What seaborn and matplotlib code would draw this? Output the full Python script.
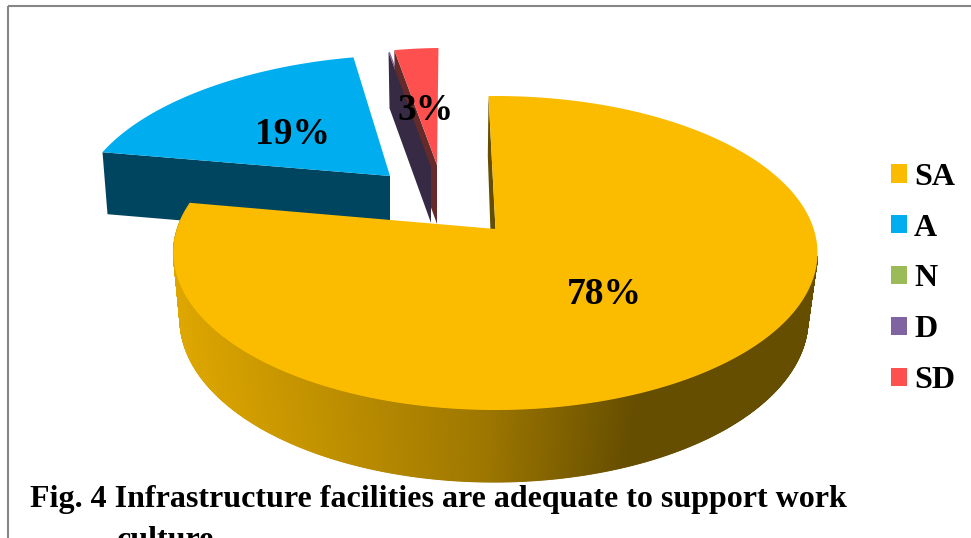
import numpy as np
import pandas as pd
import matplotlib
matplotlib.use("Agg")
from matplotlib import pyplot as plt
from matplotlib.patches import Patch, Polygon
import seaborn as sns

# Data ---------------------------------------------------------------------
categories = ["SA", "A", "N", "D", "SD"]
percent = [78.2, 18.8, 0, 0.1, 2.9]

top_colors = ["#FBBC00", "#00AEEF", "#9BBB59", "#8064A2", "#FF5050"]
wall_colors = ["#664E00", "#004560", "#4E5E2C", "#362A45", "#652A2A"]

# Layout (pixels of the 971x538 picture) -----------------------------------
CX, CY, RX, RY, K = 495.5, 253, 322, 157, -0.153
LOW_CX, LOW_CY, LOW_RX, LOW_RY, LOW_K = 494, 319, 314, 163, -0.1
START = -1.45
# per slice: apex shift x, y, scale x, y, shear
explode = {
    "SA": (0, 0, 1.0, 1.0, 0.0),
    "A": (-105.5, -53, 0.955, 0.91, -0.165),
    "N": (-58.5, -64, 0.88, 0.88, -0.065),
    "D": (-64.5, -62, 0.85, 0.88, -0.065),
    "SD": (-58.5, -64, 0.88, 0.88, -0.065),
}
label_xy = [(604, 294), (292, 135), None, None, (426, 110)]

df = pd.DataFrame({"cat": categories, "pct": percent, "top": top_colors, "wall": wall_colors})
df["label"] = [f"{round(p)}%" if p >= 1 else "" for p in percent]
df["angle"] = df["pct"] / df["pct"].sum() * 360
df["end"] = START + df["angle"].cumsum()
df["begin"] = df["end"] - df["angle"]


def disk(theta, cx, cy, rx, ry, k):
    # circle seen in perspective, theta clockwise from 12 o'clock
    u = np.sin(np.radians(theta))
    v = -np.cos(np.radians(theta))
    return (cx + rx * u * np.sqrt(1 - k**2) / (1 + k * v),
            cy + ry * (v + k) / (1 + k * v))


def place(x, y, cx, cy, shift):
    dx, dy, sx, sy, shear = shift
    return (cx + dx + sx * (x - cx) + shear * sy * (y - cy),
            cy + dy + sy * (y - cy))


def outline(begin, end, plane, shift):
    cx, cy, rx, ry, k = plane
    apex_y = cy + ry * k
    th = np.linspace(begin, end, 200)
    x, y = disk(th, *plane)
    x = np.r_[cx, x]
    y = np.r_[apex_y, y]
    return place(x, y, cx, apex_y, shift)


sns.set_theme(style="white")
plt.rcParams["font.family"] = ["Liberation Serif", "DejaVu Serif"]

fig, ax = plt.subplots(figsize=(9.71, 5.38), dpi=100)
fig.subplots_adjust(0, 0, 1, 1)
ax.set_xlim(0, 971)
ax.set_ylim(538, 0)
ax.axis("off")

upper = (CX, CY, RX, RY, K)
lower = (LOW_CX, LOW_CY, LOW_RX, LOW_RY, LOW_K)
row = df.set_index("cat")


def top(cat, z):
    r = row.loc[cat]
    x, y = outline(r["begin"], r["end"], upper, explode[cat])
    ax.add_patch(Polygon(np.c_[x, y], fc=r["top"], ec="none", zorder=z))


def radial_wall(cat, z, depth, lean):
    # the left hand cut face of a pulled out slice
    r = row.loc[cat]
    x, y = outline(r["begin"], r["begin"], upper, explode[cat])
    pts = [(x[1], y[1]), (x[0], y[0]), (x[0], y[0] + depth), (x[1] + lean, y[1] + depth)]
    ax.add_patch(Polygon(pts, fc=r["wall"], ec="none", zorder=z))


# pulled out slices, back to front
top("D", 1)
radial_wall("SD", 2, 59, 1)
radial_wall("D", 3, 56, 1)
top("SD", 4)
radial_wall("A", 5, 62, 5)
top("A", 6)

# yellow outer wall with its shading
sa = row.loc["SA"]
shade = sns.blend_palette(["#DDA600", "#BE8F00", "#9E7700", "#664E00"], 256)
th = np.linspace(100, sa["end"], 720)
ux, uy = disk(th, *upper)
lx, ly = disk(th, *lower)
for i in range(len(th) - 1):
    mid = (ux[i] + ux[i + 1]) / 2
    idx = int(np.clip((mid - 175) / (635 - 175), 0, 1) * 255)
    ax.add_patch(Polygon([(ux[i], uy[i]), (ux[i + 1], uy[i + 1]),
                          (lx[i + 1], ly[i + 1]), (lx[i], ly[i])],
                         fc=shade[idx], ec=shade[idx], lw=0.8, zorder=7))

# yellow cut face seen next to the top edge
rim_x, rim_y = disk(sa["begin"], *upper)
low_x, low_y = disk(sa["begin"], *lower)
ax.add_patch(Polygon([(rim_x, rim_y), (CX, CY + RY * K),
                      (LOW_CX - 1, LOW_CY + LOW_RY * LOW_K), (low_x + 1, low_y)],
                     fc=sa["wall"], ec="none", zorder=8))
top("SA", 9)

# labels
for text, xy in zip(df["label"], label_xy):
    if xy:
        ax.text(xy[0], xy[1], text, ha="center", va="center", fontsize=27,
                fontweight="bold", color="black", zorder=12)

# legend
handles = [Patch(fc=c, ec="none", label=n) for n, c in zip(categories, top_colors)]
leg = ax.legend(handles=handles, loc="center left", bbox_to_anchor=(891 / 971, 1 - 279 / 538),
                frameon=False, fontsize=23, handlelength=0.5, handleheight=0.5,
                handletextpad=0.22, labelspacing=0.685, borderpad=0, borderaxespad=0,
                labelcolor="black")
for t in leg.get_texts():
    t.set_fontweight("bold")

# caption, second line runs off the picture
ax.text(30, 500, "Fig. 4 Infrastructure facilities are adequate to support work",
        ha="left", va="center", fontsize=23, fontweight="bold", color="black", zorder=12)
ax.text(117, 541, "culture", ha="left", va="center", fontsize=23,
        fontweight="bold", color="black", zorder=12)

# frame
ax.plot([8, 8], [538, 6], color="#868686", lw=1.5, zorder=0, solid_capstyle="butt")
ax.plot([8, 971], [6, 6], color="#868686", lw=1.5, zorder=0, solid_capstyle="butt")

fig.savefig("out.png", dpi=100)
